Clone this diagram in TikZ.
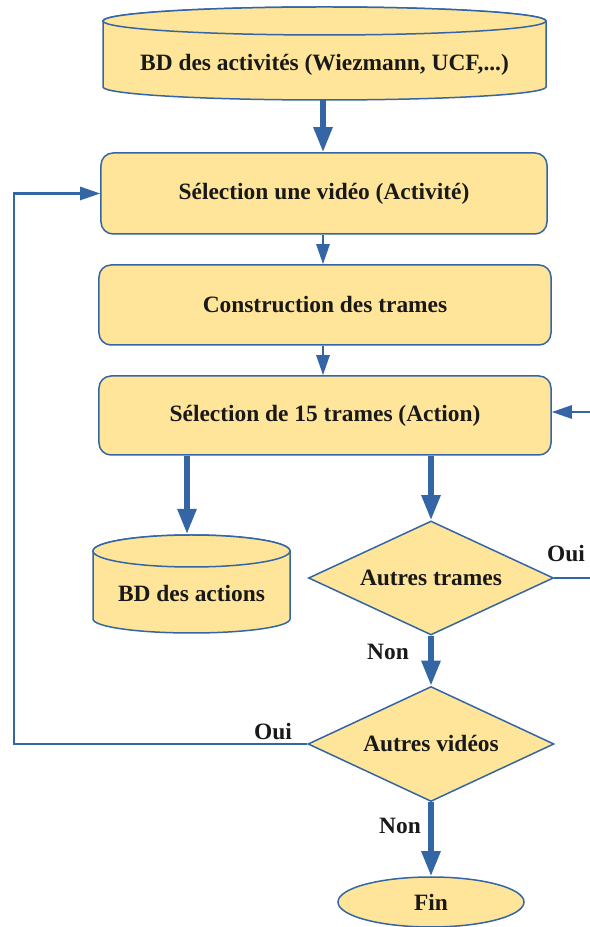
\documentclass[tikz,border=0pt]{standalone}
\usepackage{fontspec}
\setmainfont{Liberation Serif}
\usetikzlibrary{arrows.meta,shapes.geometric}
\definecolor{fillY}{RGB}{255,229,153}
\definecolor{lineB}{RGB}{52,101,164}

\begin{document}
\begin{tikzpicture}[x=1bp,y=1bp,
  txt/.style={font=\fontsize{23.5}{27}\selectfont\bfseries, text=black!90},
  shapeline/.style={draw=lineB, fill=fillY, line width=1.5bp},
  procbox/.style={shapeline, txt, rounded corners=12bp, inner sep=0},
  decision/.style={shapeline, txt, diamond, aspect=2.2, inner sep=0},
  terminal/.style={shapeline, txt, ellipse, inner sep=0},
  thinarrow/.style={draw=lineB, line width=2.5bp, -{Triangle[length=20bp,width=13bp]}},
  thickarrow/.style={draw=lineB, line width=5.5bp, -{Triangle[length=25bp,width=18bp]}},
  lbl/.style={txt, inner sep=0},
]
\useasboundingbox (0,0) rectangle (590,927);
\clip (0,0) rectangle (590,927);

% activity database (cylinder)
\draw[shapeline] (103,906) -- (103,840)
  arc[start angle=180, end angle=360, x radius=221.5, y radius=13]
  -- (546,906) arc[start angle=0, end angle=180, x radius=221.5, y radius=14] -- cycle;
\draw[shapeline] (324.5,906) ellipse[x radius=221.5, y radius=14];
\node[txt] (db1) at (324.5,862) {BD des activités (Wiezmann, UCF,...)};
\coordinate (db1bot) at (323,827);

% processing steps
\node[procbox, minimum width=446bp, minimum height=81bp] (b1) at (324,733.5) {Sélection une vidéo (Activité)};
\node[procbox, minimum width=452bp, minimum height=80bp] (b2) at (325,622) {Construction des trames};
\node[procbox, minimum width=452bp, minimum height=79bp] (b3) at (325,511.5) {Sélection de 15 trames (Action)};

% action database (cylinder)
\draw[shapeline] (93,376) -- (93,308)
  arc[start angle=180, end angle=360, x radius=98.5, y radius=14]
  -- (290,376) arc[start angle=0, end angle=180, x radius=98.5, y radius=16] -- cycle;
\draw[shapeline] (191.5,376) ellipse[x radius=98.5, y radius=16];
\node[txt] (db2) at (191.5,334) {BD des actions};
\coordinate (db2top) at (187,393);

% decisions and end
\node[decision, minimum width=245bp, minimum height=114bp] (d1) at (431,349) {Autres trames};
\node[decision, minimum width=246bp, minimum height=115bp] (d2) at (431,183) {Autres vidéos};
\node[terminal, minimum width=186bp, minimum height=50bp] (fin) at (431,25) {Fin};

% labels
\node[lbl] (oui1) at (566,373) {Oui};
\node[lbl] (non1) at (388,275) {Non};
\node[lbl] (oui2) at (273,195) {Oui};
\node[lbl] (non2) at (400,101) {Non};

% connectors
\draw[thickarrow] (db1bot) -- (b1.north -| db1bot);
\draw[thinarrow] (b1.south -| db1bot) -- (b2.north -| db1bot);
\draw[thinarrow] (b2.south -| db1bot) -- (b3.north -| db1bot);
\draw[thickarrow] (b3.south -| db2top) -- (db2top);
\draw[thickarrow] (b3.south -| d1.north) -- (d1.north);
\draw[thickarrow] (d1.south) -- (d2.north);
\draw[thickarrow] (d2.south) -- (fin.north);

% loop back for further frames
\coordinate (rloop) at (606,515);
\draw[thinarrow] (d1.east) -- (606,349) -- (rloop) -- (b3.east |- rloop);

% loop back for further videos
\coordinate (lloop) at (14,183);
\draw[thinarrow] (d2.west) -- (lloop) |- (b1.west);
\end{tikzpicture}
\end{document}
